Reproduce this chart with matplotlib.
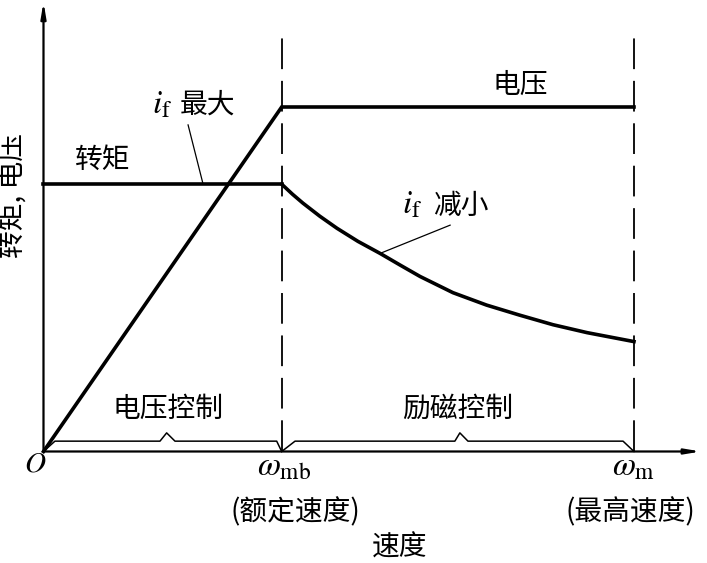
import matplotlib
matplotlib.use("Agg")
import matplotlib.pyplot as plt
import numpy as np

plt.rcParams['font.family'] = ['Noto Sans CJK SC', 'DejaVu Sans']
plt.rcParams['mathtext.fontset'] = 'stix'

# ---- data (speed in units of rated speed, quantities normalised) ----
w_mb = 1.0          # rated speed
w_m = 2.479         # max speed
torque_const = 0.776
voltage_max = 1.0

# voltage: rises linearly to rated speed, then constant
volt_x = [0.0, w_mb, w_m]
volt_y = [0.0, voltage_max, voltage_max]

# torque: constant to rated speed
torque_x = [0.0, w_mb]
torque_y = [torque_const, torque_const]

# torque in field-weakening region
fw_x = [1.0, 1.045, 1.089, 1.16, 1.232, 1.32, 1.413, 1.50, 1.581, 1.719, 1.860, 1.998, 2.139, 2.282, 2.479]
fw_y = [0.776, 0.747, 0.721, 0.683, 0.648, 0.610, 0.575, 0.540, 0.508, 0.461, 0.425, 0.396, 0.368, 0.345, 0.319]

# braces under the x axis regions
brace1_x = [0.0, 0.048, 0.489, 0.517, 0.552, 0.979, 1.0]
brace1_y = [0.0, 0.030, 0.030, 0.054, 0.030, 0.030, 0.0]
brace2_x = [1.0, 1.056, 1.727, 1.748, 1.782, 2.433, 2.479]
brace2_y = [0.0, 0.030, 0.030, 0.054, 0.030, 0.030, 0.0]

fig = plt.figure(figsize=(7.07, 5.63), dpi=100)
ax = fig.add_axes([0, 0, 1, 1])
ax.set_xlim(-0.1826, 2.7855)
ax.set_ylim(-0.3237, 1.3106)
ax.axis('off')

# axes with arrows
ax.annotate('', xy=(2.76, 0), xytext=(0, 0),
            arrowprops=dict(arrowstyle='-|>,head_length=0.9,head_width=0.15',
                            color='black', lw=1.6, shrinkA=0, shrinkB=0))
ax.annotate('', xy=(0, 1.305), xytext=(0, 0),
            arrowprops=dict(arrowstyle='-|>,head_length=0.9,head_width=0.15',
                            color='black', lw=1.6, shrinkA=0, shrinkB=0))

# dashed verticals
for xv in (w_mb, w_m):
    ax.plot([xv, xv], [0, 1.209], color='black', lw=1.3, dashes=(17, 6.5))

# main curves
ax.plot(volt_x, volt_y, color='black', lw=2.6, solid_joinstyle='miter')
ax.plot(torque_x, torque_y, color='black', lw=2.6)
ax.plot(fw_x, fw_y, color='black', lw=2.6, solid_joinstyle='round')

# braces
ax.plot(brace1_x, brace1_y, color='black', lw=1.1)
ax.plot(brace2_x, brace2_y, color='black', lw=1.1)

# leader lines
ax.plot([0.607, 0.670], [0.948, 0.776], color='black', lw=0.9)
ax.plot([1.707, 1.413], [0.657, 0.575], color='black', lw=0.9)

fs = 20
mfs = 24
ax.text(0.500, 1.010, r'$i_{\mathrm{f}}$', fontsize=mfs, ha='center', va='center')
ax.text(0.690, 1.006, '最大', fontsize=fs, ha='center', va='center')
ax.text(1.547, 0.717, r'$i_{\mathrm{f}}$', fontsize=mfs, ha='center', va='center')
ax.text(1.752, 0.713, '减小', fontsize=fs, ha='center', va='center')
ax.text(0.250, 0.846, '转矩', fontsize=fs, ha='center', va='center')
ax.text(2.000, 1.064, '电压', fontsize=fs, ha='center', va='center')
ax.text(0.523, 0.123, '电压控制', fontsize=fs, ha='center', va='center')
ax.text(1.740, 0.123, '励磁控制', fontsize=fs, ha='center', va='center')
ax.text(-0.036, -0.036, r'$O$', fontsize=21, ha='center', va='center')
ax.text(1.010, -0.042, r'$\omega_{\mathrm{mb}}$', fontsize=mfs, ha='center', va='center')
ax.text(2.475, -0.042, r'$\omega_{\mathrm{m}}$', fontsize=mfs, ha='center', va='center')
ax.text(1.056, -0.176, '(额定速度)', fontsize=fs, ha='center', va='center')
ax.text(2.462, -0.176, '(最高速度)', fontsize=fs, ha='center', va='center')
ax.text(1.497, -0.280, '速度', fontsize=fs, ha='center', va='center')
ax.text(-0.124, 0.742, '转矩, 电压', fontsize=fs, ha='center', va='center', rotation=90)

fig.savefig('out.png', dpi=100)
